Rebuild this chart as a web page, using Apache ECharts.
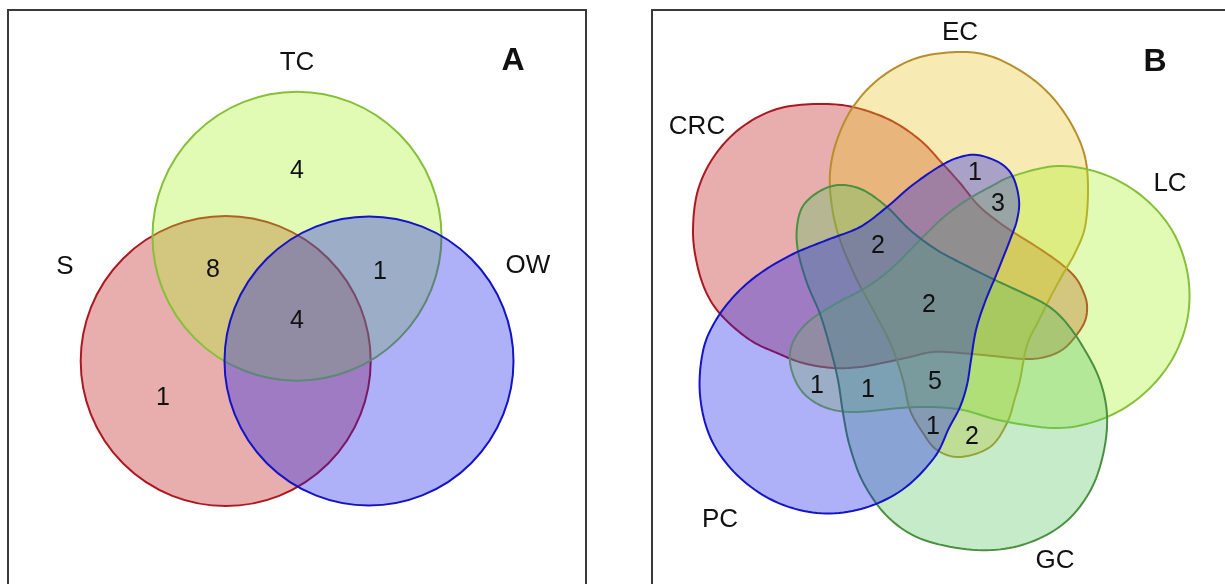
<!DOCTYPE html>
<html>
<head>
<meta charset="utf-8">
<script src="https://cdn.jsdelivr.net/npm/echarts@6/dist/echarts.min.js"></script>
<style>
  html, body { margin: 0; padding: 0; background: #fff; }
  #chart { width: 1225px; height: 584px; }
</style>
</head>
<body>
<div id="chart"></div>
<script>
// ---- panel A : three-set venn (circles, page px units) ----
const setsA = ['S', 'TC', 'OW'];
const circlesA = [[225.7, 361, 145], [297, 236.2, 144.5], [369, 361, 144.5]];
const setLabelPosA = [[65, 267], [297, 63], [528, 266]];
const countsA = [4, 8, 1, 4, 1];
const countPosA = [[297, 171], [213, 270], [380, 272], [297, 321], [163, 398]];

// ---- panel B : five-set venn (outline control points) ----
const setsB = ['CRC', 'EC', 'LC', 'GC', 'PC'];
const outlineCRC = [[817, 104], [853, 107], [890, 120], [920, 140], [942, 163], [960, 183], [980, 207], [1007, 228],
  [1037, 247], [1060, 263], [1075, 277], [1083, 291], [1087, 305], [1085, 321], [1075, 337], [1062, 350], [1045, 357],
  [1025, 359], [993, 356], [960, 353], [933, 352], [910, 357], [887, 362], [860, 367], [833, 368], [803, 363],
  [777, 353], [750, 340], [723, 317], [707, 294], [697, 264], [693, 230], [698, 190], [715, 155], [742, 127], [777, 109]];
const outlineEC = [[960, 52], [993, 57], [1027, 75], [1053, 98], [1073, 127], [1085, 157], [1088, 190], [1085, 227],
  [1075, 253], [1063, 274], [1050, 298], [1038, 322], [1027, 345], [1020, 380], [1015, 398], [1007, 423], [990, 447],
  [960, 457], [937, 450], [923, 433], [910, 410], [903, 380], [892, 347], [877, 317], [857, 280],
  [840, 240], [832, 207], [830, 173], [837, 140], [853, 107], [880, 78], [917, 58]];
const outlineLC = [[1058, 166], [1103, 174], [1143, 197], [1173, 232], [1188, 276], [1187, 321], [1170, 363],
  [1140, 397], [1102, 419], [1058, 428], [1003, 421], [963, 410], [930, 407],
  [900, 408], [857, 412], [830, 409], [810, 399], [797, 384], [790, 362], [793, 342], [808, 322], [837, 303],
  [867, 287], [893, 267], [923, 237], [945, 216], [967, 200], [990, 187], [1013, 176]];
const outlineGC = [[840, 185], [863, 190], [887, 207], [910, 230], [937, 250], [967, 266], [993, 279], [1023, 293],
  [1045, 304], [1062, 318], [1080, 342], [1099, 378], [1107, 415], [1103, 455], [1089, 493], [1062, 525], [1022, 545],
  [977, 550], [924, 540], [889, 518], [864, 484], [850, 447], [843, 413], [838, 380], [830, 347],
  [820, 314], [807, 283], [798, 251], [797, 227], [803, 206], [820, 191]];
const outlinePC = [[977, 155], [1000, 163], [1013, 177], [1019, 200], [1017, 220], [1010, 240], [997, 273],
  [985, 302], [976, 330], [971, 360], [967, 385], [960, 407], [949, 428], [934, 458], [902, 490], [861, 509],
  [817, 513], [774, 501], [737, 475], [711, 439], [700, 395], [703, 351], [716, 320], [737, 293],
  [762, 272], [793, 254], [827, 240], [860, 227], [887, 207], [910, 187], [937, 168], [957, 158]];
const setLabelPosB = [[697, 127], [960, 33], [1170, 184], [1055, 561], [720, 520]];
const countsB = [1, 3, 2, 2, 1, 1, 5, 1, 2];
const countPosB = [[975, 173], [998, 204], [878, 246], [929, 305], [817, 386], [868, 390], [935, 382], [933, 427], [972, 437]];

const colorsA = [
  { fill: 'rgba(189,24,24,0.35)', stroke: '#ad1820' },
  { fill: 'rgba(172,244,41,0.35)', stroke: '#86c03a' },
  { fill: 'rgba(24,29,235,0.35)', stroke: '#1414c4' }
];
const colorsB = [
  { fill: 'rgba(189,24,24,0.35)', stroke: '#ad1820' },
  { fill: 'rgba(232,195,35,0.35)', stroke: '#b88e2c' },
  { fill: 'rgba(172,244,41,0.35)', stroke: '#86c03a' },
  { fill: 'rgba(89,198,98,0.35)', stroke: '#4a9040' },
  { fill: 'rgba(24,29,235,0.35)', stroke: '#1414c4' }
];
const outlinesB = [outlineCRC, outlineEC, outlineLC, outlineGC, outlinePC];

const FONT = '"Liberation Sans", Arial, sans-serif';

// closed Catmull-Rom through the control points
function closedSpline(pts, steps) {
  const out = [];
  const n = pts.length;
  for (let i = 0; i < n; i++) {
    const p0 = pts[(i - 1 + n) % n], p1 = pts[i], p2 = pts[(i + 1) % n], p3 = pts[(i + 2) % n];
    for (let s = 0; s < steps; s++) {
      const t = s / steps, t2 = t * t, t3 = t2 * t;
      const f = k => 0.5 * (2 * p1[k] + (p2[k] - p0[k]) * t + (2 * p0[k] - 5 * p1[k] + 4 * p2[k] - p3[k]) * t2 +
        (3 * p1[k] - p0[k] - 3 * p2[k] + p3[k]) * t3);
      out.push([f(0), f(1)]);
    }
  }
  return out;
}

function textSeries(gridIdx, texts, positions, size, bold) {
  return {
    type: 'custom',
    xAxisIndex: gridIdx,
    yAxisIndex: gridIdx,
    z: 10,
    data: positions.map((p, i) => ({ value: p, name: String(texts[i]) })),
    renderItem: (params, api) => {
      const c = api.coord([api.value(0), api.value(1)]);
      return {
        type: 'text',
        style: {
          text: String(texts[params.dataIndex]),
          x: c[0], y: c[1],
          align: 'center', verticalAlign: 'middle',
          fontSize: size, fontFamily: FONT, fontWeight: bold ? 'bold' : 'normal',
          fill: '#111'
        }
      };
    }
  };
}

const chart = echarts.init(document.getElementById('chart'));

const hiddenAxis = (min, max, inverse) => ({
  type: 'value', min, max, inverse, show: false, splitLine: { show: false }
});

const gridBase = { show: true, borderColor: '#3a3a3a', borderWidth: 2, backgroundColor: 'transparent', outerBoundsMode: 'none', containLabel: false };

const option = {
  animation: false,
  backgroundColor: '#fff',
  grid: [
    Object.assign({ left: 8, top: 10, width: 578, height: 600 }, gridBase),
    Object.assign({ left: 652, top: 10, width: 600, height: 600 }, gridBase)
  ],
  xAxis: [
    Object.assign(hiddenAxis(8, 586, false), { gridIndex: 0 }),
    Object.assign(hiddenAxis(652, 1252, false), { gridIndex: 1 })
  ],
  yAxis: [
    Object.assign(hiddenAxis(10, 610, true), { gridIndex: 0 }),
    Object.assign(hiddenAxis(10, 610, true), { gridIndex: 1 })
  ],
  series: [
    {
      type: 'custom',
      name: 'A',
      xAxisIndex: 0,
      yAxisIndex: 0,
      data: circlesA.map((c, i) => ({ value: c, name: setsA[i] })),
      renderItem: (params, api) => {
        const c = api.coord([api.value(0), api.value(1)]);
        const r = api.size([api.value(2), 0])[0];
        const col = colorsA[params.dataIndex];
        return {
          type: 'circle',
          shape: { cx: c[0], cy: c[1], r: r },
          style: { fill: col.fill, stroke: col.stroke, lineWidth: 2 }
        };
      }
    },
    {
      type: 'custom',
      name: 'B',
      xAxisIndex: 1,
      yAxisIndex: 1,
      data: outlinesB.map((o, i) => ({ value: o[0], name: setsB[i] })),
      renderItem: (params, api) => {
        const pts = outlinesB[params.dataIndex].map(p => api.coord(p));
        const col = colorsB[params.dataIndex];
        return {
          type: 'polygon',
          shape: { points: closedSpline(pts, 10) },
          style: { fill: col.fill, stroke: col.stroke, lineWidth: 2 }
        };
      }
    },
    textSeries(0, setsA, setLabelPosA, 26, false),
    textSeries(0, countsA, countPosA, 25, false),
    textSeries(0, ['A'], [[513, 61]], 32, true),
    textSeries(1, setsB, setLabelPosB, 26, false),
    textSeries(1, countsB, countPosB, 25, false),
    textSeries(1, ['B'], [[1155, 62]], 32, true)
  ]
};

chart.setOption(option);
</script>
</body>
</html>
